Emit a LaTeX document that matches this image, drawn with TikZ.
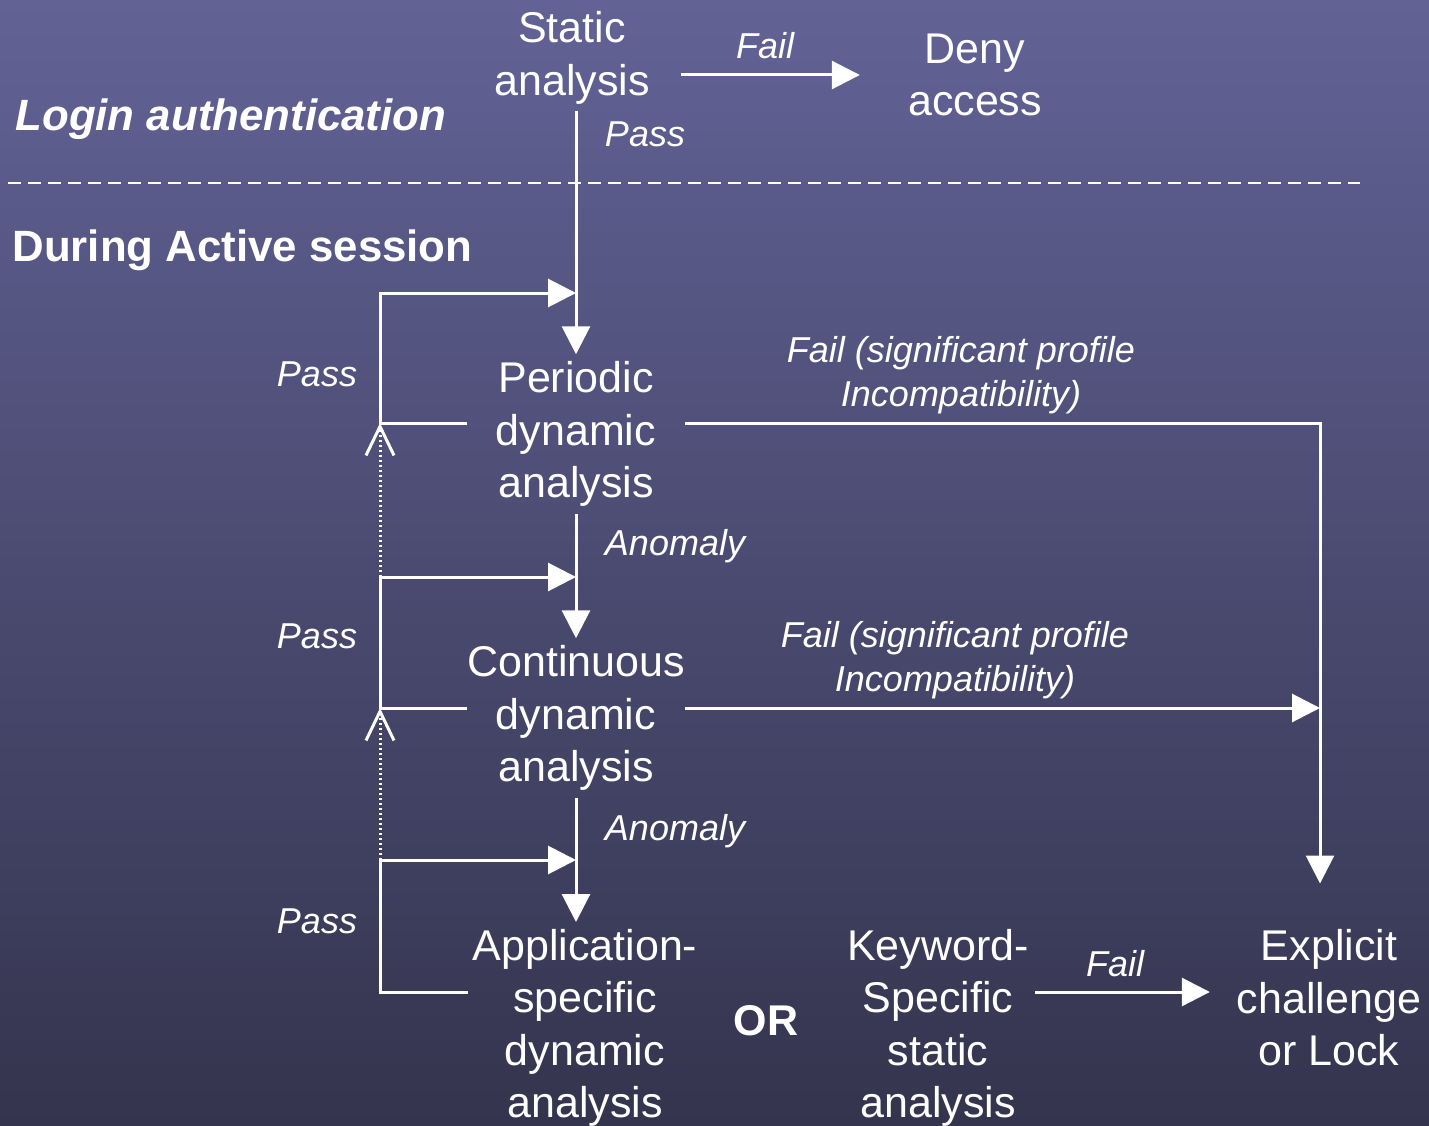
\documentclass[tikz,border=0pt]{standalone}
\usepackage{fontspec}
\setmainfont{Liberation Sans}
\usetikzlibrary{arrows.meta}
\definecolor{slatetop}{RGB}{98,98,150}
\definecolor{slatebot}{RGB}{52,52,78}
\newcommand{\stagefont}{\fontsize{43}{52.5}\selectfont}
\newcommand{\headfont}{\fontsize{43.8}{52.5}\selectfont\bfseries}
\newcommand{\tagfont}{\fontsize{36}{44}\selectfont\itshape}
\tikzset{
    x=1pt, y=-1pt, % pixel grid, y going down
    stage/.style={align=center, text=white, font=\stagefont, inner xsep=0pt, inner ysep=7pt, minimum width=217pt}, % analysis steps
    tag/.style={align=center, text=white, font=\tagfont, inner sep=0pt}, % edge labels
    flow/.style={white, line width=3pt, -{Triangle[length=28pt, width=28pt]}},
    back/.style={white, line width=3pt, dash pattern=on 2.5pt off 2.5pt, -{Straight Barb[length=29pt, width=28pt]}},
}

\begin{document}
\begin{tikzpicture}
    \shade[top color=slatetop, bottom color=slatebot] (0,0) rectangle (1429,1126);
    \useasboundingbox (0,0) rectangle (1429,1126);

    % section titles
    \node[anchor=west, text=white, font=\headfont\itshape] (login) at (12,119) {Login authentication};
    \draw[white, line width=2pt, dash pattern=on 13pt off 7pt] (8,183) -- (1360,183);
    \node[anchor=west, text=white, font=\headfont] (during) at (9,250) {During Active session};

    % steps
    \node[stage] (static) at (572,58) {Static\\analysis};
    \node[stage, minimum width=230pt] (deny) at (975,75) {Deny\\access};
    \node[stage] (periodic) at (576,434) {Periodic\\dynamic\\analysis};
    \node[stage] (continuous) at (576,718) {Continuous\\dynamic\\analysis};
    \node[stage, minimum width=234pt] (appl) at (585,1028) {Application-\\specific\\dynamic\\analysis};
    \node[stage, font=\stagefont\bfseries, minimum width=0pt] (or) at (766,1021) {OR};
    \node[stage, minimum width=194pt] (keyword) at (938,1028) {Keyword-\\Specific\\static\\analysis};
    \node[stage, minimum width=238pt] (explicit) at (1329,998) {Explicit\\challenge\\or Lock};

    % turning points
    \coordinate (in1) at (576,293);
    \coordinate (in2) at (576,577);
    \coordinate (in3) at (576,860);
    \coordinate (turn1) at (380,293);
    \coordinate (turn2) at (380,577);
    \coordinate (turn3) at (380,860);
    \coordinate (fork1) at (380,423);
    \coordinate (fork2) at (380,708);
    \coordinate (fork3) at (380,992);
    \coordinate (drop) at (1320,423);

    % labels
    \node[tag] (failtop) at (765,46) {Fail};
    \node[tag] (passtop) at (645,134) {Pass};
    \node[tag] (pass1) at (317,374) {Pass};
    \node[tag] (fail1) at (961,375) {Fail (significant profile\\Incompatibility)};
    \node[tag] (anomaly1) at (675,546) {Anomaly};
    \node[tag] (pass2) at (317,636) {Pass};
    \node[tag] (fail2) at (955,660) {Fail (significant profile\\Incompatibility)};
    \node[tag] (anomaly2) at (675,831) {Anomaly};
    \node[tag] (pass3) at (317,921) {Pass};
    \node[tag] (failbot) at (1115,964) {Fail};

    % edges
    \draw[flow] (static.east |- deny.west) -- (deny.west);
    \draw[flow] (static.south -| periodic.north) -- (periodic.north);
    \draw[flow] (periodic.south) -- (continuous.north);
    \draw[flow] (continuous.south) -- (continuous.south |- appl.north);
    \draw[flow] (periodic.west |- fork1) -- (fork1) -- (turn1) -- (in1);
    \draw[flow] (continuous.west |- fork2) -- (fork2) -- (turn2) -- (in2);
    \draw[flow] (appl.west |- fork3) -- (fork3) -- (turn3) -- (in3);
    \draw[back] (turn2) -- (fork1);
    \draw[back] (turn3) -- (fork2);
    \draw[flow, shorten >=39pt] (periodic.east |- fork1) -- (drop) -- (drop |- explicit.north);
    \draw[flow] (continuous.east |- fork2) -- (fork2 -| drop);
    \draw[flow] (keyword.east |- fork3) -- (explicit.west |- fork3);
\end{tikzpicture}
\end{document}
